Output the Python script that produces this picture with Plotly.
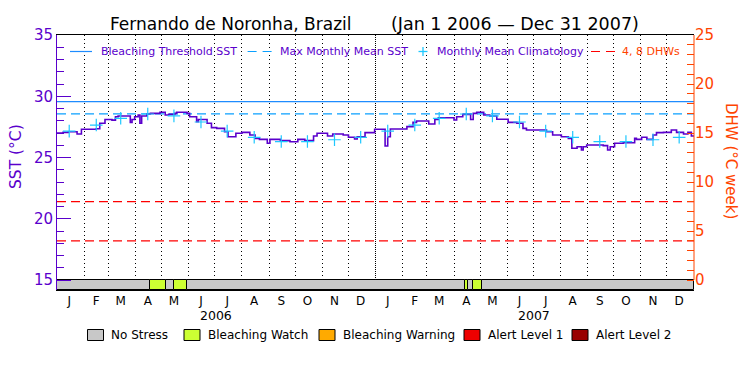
import plotly.graph_objects as go
import pandas as pd

# ---------------- data ----------------
start = pd.Timestamp("2006-01-01")
end = pd.Timestamp("2008-01-01")

# daily SST (day offset from 2006-01-01, value held until next point)
sst_day = [0, 7, 13, 23, 28, 45, 49, 55, 63, 67, 70, 84, 86, 89, 93, 95, 97, 103, 107, 118,
           124, 128, 135, 137, 149, 152, 160, 162, 172, 177, 183, 192, 196, 205, 212, 221,
           227, 232, 241, 244, 256, 267, 276, 284, 294, 298, 310, 316, 328, 334, 341, 344,
           353, 364, 376, 379, 382, 401, 408, 412, 426, 433, 437, 455, 458, 465, 474, 477,
           481, 489, 496, 504, 517, 527, 534, 538, 561, 568, 578, 586, 590, 596, 601, 603,
           607, 626, 631, 634, 639, 649, 662, 664, 670, 676, 683, 687, 695, 704, 710, 718,
           723, 727, 730]
sst_value = [27.00, 27.05, 27.10, 26.92, 27.30, 27.35, 27.80, 28.10, 28.05, 28.33, 28.39, 27.87,
             28.10, 28.33, 28.47, 27.79, 28.39, 28.55, 28.60, 28.69, 28.47, 28.52, 28.60, 28.69,
             28.60, 28.33, 27.93, 28.10, 27.79, 27.44, 27.38, 27.10, 26.70, 26.98, 27.05, 26.84,
             26.56, 26.48, 26.16, 26.48, 26.38, 26.29, 26.48, 26.38, 26.76, 26.98, 26.76, 26.92,
             26.84, 26.65, 26.51, 26.70, 27.03, 27.30, 25.94, 26.70, 27.33, 27.52, 27.87, 27.98,
             27.73, 28.10, 28.25, 28.06, 28.33, 28.52, 28.10, 28.60, 28.69, 28.47, 28.39, 28.12,
             27.87, 27.79, 27.38, 27.25, 27.10, 26.84, 26.70, 26.56, 25.75, 25.88, 25.61, 25.88,
             26.02, 25.97, 25.61, 25.88, 26.16, 26.21, 26.56, 26.48, 26.65, 26.48, 26.84, 27.03,
             27.05, 27.25, 27.05, 26.92, 27.05, 26.75, 26.75]

clim_value = [27.15, 27.65, 28.20, 28.55, 28.40, 27.90, 27.15, 26.65, 26.30, 26.30, 26.45, 26.65]
mmm = 28.56
threshold = 29.56
dhw_levels = [4, 8]

stress_start = ["2006-01-01", "2006-04-17", "2006-05-06", "2006-05-15", "2006-05-30",
                "2007-04-14", "2007-04-17", "2007-04-23", "2007-05-03"]
stress_end = ["2006-04-17", "2006-05-06", "2006-05-15", "2006-05-30", "2007-04-14",
              "2007-04-17", "2007-04-23", "2007-05-03", "2008-01-01"]
stress_level = [0, 1, 0, 1, 0, 1, 0, 1, 0]

stress_names = ["No Stress", "Bleaching Watch", "Bleaching Warning", "Alert Level 1", "Alert Level 2"]
stress_colors = ["#C8C8C8", "#CCFF33", "#FFAA00", "#EE0000", "#990000"]
month_letters = ["J", "F", "M", "A", "M", "J", "J", "A", "S", "O", "N", "D"]
years = [2006, 2007]
sst_ticks = [15, 20, 25, 30, 35]
dhw_ticks = [0, 5, 10, 15, 20, 25]

# ---------------- styles ----------------
FONT = "DejaVu Sans"
PURPLE = "#5A00CC"
ORANGE = "#FF4400"
BLUE = "#1E8CFF"
BLUE2 = "#0AA0FF"
CYAN = "#1EC8FF"
RED = "#FF0000"

W, H = 750, 375
L, R, T, B = 57, 56, 35, 85
PW, PH = W - L - R, H - T - B
def px(xp):
    return (xp - L) / PW
def py(yp):
    return (H - B - yp) / PH

bar_px = 10
sst_per_px = 20 / 245.0
sst_lo = 15 - bar_px * sst_per_px
dhw_lo = (sst_lo - 15) * 25 / 20

sst_dates = [start + pd.Timedelta(days=d) for d in sst_day]
clim_dates = [pd.Timestamp(f"{y}-{m:02d}-15") for y in years for m in range(1, 13)]
clim_all = clim_value * len(years)

fig = go.Figure()

# stress bar (below SST 15 on the SST axis)
s0 = pd.to_datetime(stress_start)
s1 = pd.to_datetime(stress_end)
dur = [(b - a).total_seconds() * 1000 for a, b in zip(s0, s1)]
fig.add_trace(go.Bar(orientation="h", base=stress_start, x=dur, y=[(sst_lo + 15) / 2] * len(dur),
                     width=15 - sst_lo,
                     marker=dict(color=[stress_colors[l] for l in stress_level], line=dict(color="black", width=1)),
                     xaxis="x", yaxis="y", showlegend=False, hoverinfo="skip"))

fig.add_trace(go.Scatter(x=[start, end], y=[threshold, threshold], mode="lines",
                         line=dict(color=BLUE, width=1.2), yaxis="y", showlegend=False, hoverinfo="skip"))
fig.add_trace(go.Scatter(x=[start, end], y=[mmm, mmm], mode="lines",
                         line=dict(color=BLUE2, width=1.2, dash="9px,5px"), yaxis="y", showlegend=False, hoverinfo="skip"))
for lv in dhw_levels:
    fig.add_trace(go.Scatter(x=[start, end], y=[lv, lv], mode="lines",
                             line=dict(color=RED, width=1.2, dash="9px,5px"), yaxis="y2", showlegend=False, hoverinfo="skip"))
fig.add_trace(go.Scatter(x=sst_dates, y=sst_value, mode="lines", line_shape="hv",
                         line=dict(color=PURPLE, width=1.6), xaxis="x", yaxis="y", showlegend=False))
fig.add_trace(go.Scatter(x=clim_dates, y=clim_all, mode="markers",
                         marker=dict(symbol="cross-thin", size=9, line=dict(width=1.2, color=CYAN)),
                         yaxis="y", showlegend=False))

month_starts = [d for d in pd.date_range("2006-02-01", "2007-12-01", freq="MS") if d != pd.Timestamp("2007-01-01")]

top_frac = py(280)
shapes = [
    dict(type="line", xref="x", yref="paper", x0="2007-01-01", x1="2007-01-01", y0=top_frac, y1=1,
         line=dict(color="black", width=1, dash="1px,1px"), layer="below"),
    # right (DHW) axis line, from DHW 0 up to the top
    dict(type="line", xref="paper", yref="paper", x0=1, x1=1, y0=top_frac, y1=1,
         line=dict(color=ORANGE, width=1)),
]
annotations = []

# title
annotations.append(dict(text="Fernando de Noronha, Brazil", xref="paper", yref="paper", x=px(108), y=py(24),
                        xanchor="left", yanchor="middle", showarrow=False, font=dict(family=FONT, size=17, color="black")))
annotations.append(dict(text="(Jan 1 2006 \u2014 Dec 31 2007)", xref="paper", yref="paper", x=px(389), y=py(24),
                        xanchor="left", yanchor="middle", showarrow=False, font=dict(family=FONT, size=17.5, color="black")))
# axis titles
annotations.append(dict(text="SST (\u00b0C)", xref="paper", yref="paper", x=px(16), y=py(157), textangle=-90,
                        xanchor="center", yanchor="middle",
                        showarrow=False, font=dict(family=FONT, size=15.5, color=PURPLE)))
annotations.append(dict(text="DHW (\u00b0C week)", xref="paper", yref="paper", x=px(731), y=py(161), textangle=90,
                        xanchor="center", yanchor="middle",
                        showarrow=False, font=dict(family=FONT, size=15, color=ORANGE)))
# years
for yv in years:
    annotations.append(dict(text=str(yv), xref="x", yref="paper", x=f"{yv}-07-02", y=py(315.5),
                            xanchor="center", yanchor="middle",
                            showarrow=False, font=dict(family=FONT, size=12.5, color="black")))

# top legend
ly = py(51.5)
shapes.append(dict(type="line", xref="paper", yref="paper", x0=px(70), x1=px(92), y0=ly, y1=ly,
                   line=dict(color=BLUE, width=1.2)))
shapes.append(dict(type="line", xref="paper", yref="paper", x0=px(247.6), x1=px(271.6), y0=ly, y1=ly,
                   line=dict(color=BLUE2, width=1.2, dash="9px,6px")))
shapes.append(dict(type="line", xref="paper", yref="paper", x0=px(591), x1=px(615), y0=ly, y1=ly,
                   line=dict(color=RED, width=1.2, dash="9px,6px")))
shapes.append(dict(type="line", xref="paper", yref="paper", x0=px(418.5), x1=px(427.5), y0=ly, y1=ly,
                   line=dict(color=CYAN, width=1.3)))
shapes.append(dict(type="line", xref="paper", yref="paper", x0=px(423), x1=px(423), y0=py(47), y1=py(56),
                   line=dict(color=CYAN, width=1.3)))
for txt, xp, col in [("Bleaching Threshold SST", 98.6, PURPLE), ("Max Monthly Mean SST", 278, PURPLE),
                     ("Monthly Mean Climatology", 435, PURPLE), ("4, 8 DHWs", 620, ORANGE)]:
    annotations.append(dict(text=txt, xref="paper", yref="paper", x=px(xp), y=ly, xanchor="left", yanchor="middle",
                            showarrow=False, font=dict(family=FONT, size=11, color=col)))

# bottom legend
box_x = [87.5, 184, 319, 464, 572]
for name, col, bx in zip(stress_names, stress_colors, box_x):
    shapes.append(dict(type="rect", xref="paper", yref="paper", x0=px(bx), x1=px(bx + 16), y0=py(340.5), y1=py(329.5),
                       fillcolor=col, line=dict(color="black", width=1)))
    annotations.append(dict(text=name, xref="paper", yref="paper", x=px(bx + 21.5), y=py(335), xanchor="left",
                            yanchor="middle", showarrow=False, font=dict(family=FONT, size=12, color="black")))

fig.update_layout(
    width=W, height=H, margin=dict(l=L, r=R, t=T, b=B, pad=0),
    paper_bgcolor="white", plot_bgcolor="white", showlegend=False,
    font=dict(family=FONT),
    xaxis=dict(type="date", range=[start, end], showline=True, linecolor="black", linewidth=1, mirror=True,
               showgrid=False, zeroline=False, anchor="y",
               tickvals=clim_dates, ticktext=month_letters * len(years), ticks="",
               tickfont=dict(family=FONT, size=12, color="black"),
               minor=dict(tickvals=month_starts, showgrid=True, gridcolor="black", gridwidth=1,
                          griddash="1px,3px", ticks="")),
    yaxis=dict(range=[sst_lo, 35], tickvals=sst_ticks, ticks="inside", ticklen=14,
               tickcolor=PURPLE, tickwidth=1, showline=True, linecolor=PURPLE, linewidth=1,
               tickfont=dict(family=FONT, size=15, color=PURPLE), showgrid=False, zeroline=False,
               minor=dict(tickvals=list(range(15, 36)), ticks="inside", ticklen=7, tickcolor=PURPLE, showgrid=False)),
    yaxis2=dict(overlaying="y", range=[dhw_lo, 25], side="right", anchor="x", tickvals=dhw_ticks,
                ticks="inside", ticklen=7, tickcolor=ORANGE, tickwidth=1, showline=False,
                tickfont=dict(family=FONT, size=15, color=ORANGE), showgrid=False, zeroline=False,
                minor=dict(tickvals=list(range(0, 26)), ticks="inside", ticklen=7, tickcolor=ORANGE, showgrid=False)),
    shapes=shapes, annotations=annotations, bargap=0,
)

fig.write_html("out.html", config={"displayModeBar": False},
               post_script="document.body.style.margin='0';document.body.style.padding='0';")
